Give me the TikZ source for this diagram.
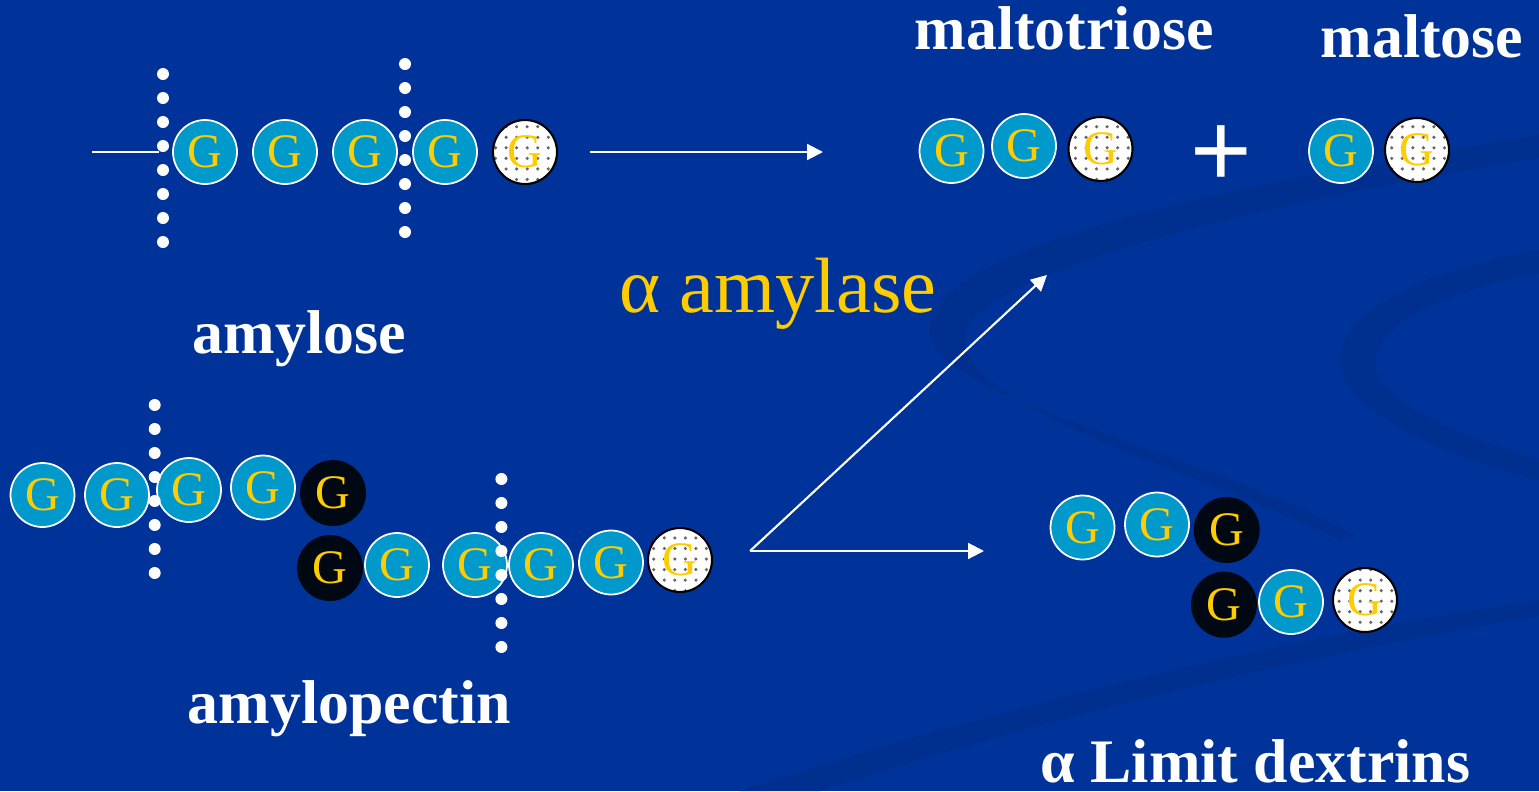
\documentclass[tikz,border=0pt]{standalone}
\usepackage{fontspec}
\setmainfont{Liberation Serif}
\newfontfamily\plusfont{Liberation Sans}
\usetikzlibrary{arrows.meta,patterns}
\definecolor{slideblue}{RGB}{0,51,153}
\definecolor{swoosh}{RGB}{0,47,144}
\definecolor{glucose}{RGB}{0,153,204}
\definecolor{gyellow}{RGB}{255,204,0}
\definecolor{branchpt}{RGB}{0,8,20}
\begin{document}
\begin{tikzpicture}[x=1mm,y=1mm,
    every node/.style={inner sep=0pt},
    glc/.style={circle,minimum size=6.4mm,fill=glucose,draw=white,line width=0.5pt,
      text=gyellow,font=\fontsize{13.7}{14}\selectfont},
    brn/.style={circle,minimum size=6.6mm,fill=branchpt,
      text=gyellow,font=\fontsize{13.7}{14}\selectfont},
    rdc/.style={circle,minimum size=6.4mm,draw=black,line width=0.6pt,
      preaction={fill=white},pattern=dots,pattern color=black!60,
      text=gyellow,font=\fontsize{13.7}{14}\selectfont},
    lbl/.style={text=white,font=\fontsize{17.6}{20}\selectfont\bfseries,anchor=base west},
    enz/.style={text=gyellow,font=\fontsize{22.3}{24}\selectfont,anchor=base},
    rxn/.style={draw=white,line width=0.6pt,-{Triangle[length=4.5pt,width=4.5pt]}}]
  \useasboundingbox (0,0) rectangle (153.9,-79.1);
  \fill[slideblue] (0,0) rectangle (153.9,-79.1);
  % template swooshes
  \fill[swoosh] (153.9,-13.5) .. controls (120,-19) and (92,-25) .. (93,-33.5)
    .. controls (94,-40) and (120,-45) .. (135.5,-53.5)
    -- (134,-54) .. controls (118,-46.5) and (97,-41) .. (96.5,-34)
    .. controls (96,-28) and (122,-21) .. (153.9,-15.8) -- cycle;
  \fill[swoosh] (153.9,-25) .. controls (140,-27.5) and (134,-32) .. (134,-36)
    .. controls (134,-41) and (145,-46) .. (153.9,-48)
    -- (153.9,-46) .. controls (146,-43.5) and (137,-40) .. (137.5,-36)
    .. controls (138,-32) and (145,-29) .. (153.9,-27.3) -- cycle;
  \fill[swoosh] (74,-79.1) .. controls (100,-70.5) and (130,-63.5) .. (153.9,-60)
    -- (153.9,-61.6) .. controls (130,-65.5) and (102,-72.5) .. (82,-79.1) -- cycle;
  % amylose
  \node[glc] (a1) at (20.5,-15.2) {G};
  \node[glc] (a2) at (28.5,-15.2) {G};
  \node[glc] (a3) at (36.5,-15.2) {G};
  \node[glc] (a4) at (44.5,-15.2) {G};
  \node[rdc] (a5) at (52.5,-15.2) {G};
  \coordinate (lead) at (9.2,-15.2);
  \draw[white,line width=0.6pt] (lead) -- ([xshift=-1.3mm]a1.west);
  \foreach \k in {0,...,7} \fill[white] (16.3,-7.4-2.4*\k) circle (0.6);
  \foreach \k in {0,...,7} \fill[white] (40.5,-6.4-2.4*\k) circle (0.6);
  \node[lbl] (amylose) at (19.2,-35.3) {amylose};
  % amylopectin
  \node[glc] (p1) at (4.25,-49.5) {G};
  \node[glc] (p2) at (11.7,-49.5) {G};
  \node[glc] (p3) at (18.9,-49.0) {G};
  \node[glc] (p4) at (26.3,-48.75) {G};
  \node[brn] (b1) at (33.3,-49.3) {G};
  \node[brn] (b2) at (33.0,-56.8) {G};
  \node[glc] (p5) at (39.7,-56.5) {G};
  \node[glc] (p6) at (47.5,-56.5) {G};
  \node[glc] (p7) at (54.1,-56.5) {G};
  \node[glc] (p8) at (61.1,-56.25) {G};
  \node[rdc] (p9) at (68.0,-56.0) {G};
  \foreach \k in {0,...,7} \fill[white] (15.47,-40.5-2.4*\k) circle (0.6);
  \foreach \k in {0,...,7} \fill[white] (50.14,-47.9-2.4*\k) circle (0.6);
  \node[lbl] (amylopectin) at (18.7,-72.3) {amylopectin};
  % enzyme and arrows
  \node[enz] (enzyme) at (77.8,-31.2) {α amylase};
  \coordinate (amyout) at (59.0,-15.2);
  \coordinate (amyin) at (82.3,-15.2);
  \coordinate (fork) at (75.0,-55.1);
  \coordinate (maltin) at (104.7,-27.5);
  \coordinate (dexin) at (98.4,-55.1);
  \draw[rxn] (amyout) -- (amyin);
  \draw[rxn] (fork) -- (maltin);
  \draw[rxn] (fork) -- (dexin);
  % products
  \node[lbl] (maltotriose) at (91.4,-4.9) {maltotriose};
  \node[glc] (m1) at (95.15,-15.1) {G};
  \node[glc] (m2) at (102.4,-14.6) {G};
  \node[rdc] (m3) at (110.05,-14.9) {G};
  \node[text=white,font=\plusfont\fontsize{30}{30}\selectfont] (plus) at (122.1,-15.6) {+};
  \node[lbl] (maltose) at (132.0,-5.7) {maltose};
  \node[glc] (t1) at (134.1,-15.1) {G};
  \node[rdc] (t2) at (141.7,-15.0) {G};
  % limit dextrins
  \node[glc] (d1) at (108.25,-52.75) {G};
  \node[glc] (d2) at (115.7,-52.45) {G};
  \node[brn] (d3) at (122.67,-53.0) {G};
  \node[brn] (d4) at (122.4,-60.47) {G};
  \node[glc] (d5) at (129.1,-60.2) {G};
  \node[rdc] (d6) at (136.5,-60.0) {G};
  \node[lbl,anchor=base east] (dextrins) at (147.1,-78.2) {α Limit dextrins};
\end{tikzpicture}
\end{document}
